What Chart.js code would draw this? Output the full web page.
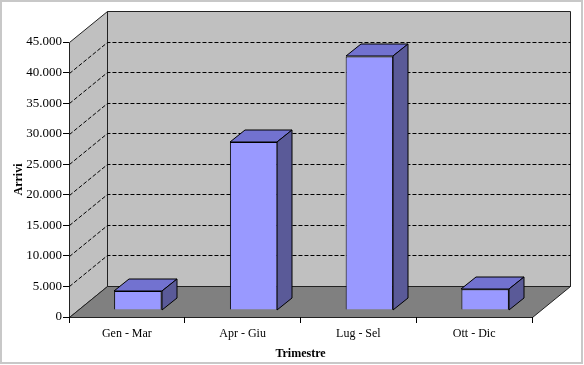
<!DOCTYPE html>
<html>
<head>
<meta charset="utf-8">
<script src="https://cdn.jsdelivr.net/npm/chart.js@4/dist/chart.umd.min.js"></script>
<style>
  html, body { margin: 0; padding: 0; background: #fff; }
  canvas { display: block; }
</style>
</head>
<body>
<canvas id="arrivi-chart" width="584" height="365"></canvas>
<script>
// dati
const categories = ["Gen - Mar", "Apr - Giu", "Lug - Sel", "Ott - Dic"];
const arrivi = [3100, 27500, 41500, 3400];
const yMax = 45000;
const yStep = 5000;

// finta prospettiva 3D (pixel)
const depth = {x: 38, y: -31};
const barShift = {x: 11, y: -7};
const barDepth = {x: 15, y: -12};

const fmt = v => String(v).replace(/\B(?=(\d{3})+(?!\d))/g, ".");
const serif = "'Liberation Serif', 'Times New Roman', serif";

function poly(ctx, pts, fill, stroke) {
    ctx.beginPath();
    pts.forEach((p, i) => i ? ctx.lineTo(p[0], p[1]) : ctx.moveTo(p[0], p[1]));
    ctx.closePath();
    if (fill) { ctx.fillStyle = fill; ctx.fill(); }
    if (stroke) { ctx.strokeStyle = stroke; ctx.lineWidth = 1; ctx.stroke(); }
}

const walls3d = {
    id: "walls3d",
    beforeDraw(chart) {
        const ctx = chart.ctx;
        const {left, right} = chart.chartArea;
        const y = chart.scales.y;
        const l = Math.round(left) + 0.5, r = Math.round(right) + 0.5;
        const t = Math.round(y.getPixelForValue(yMax)) + 0.5;
        const b = Math.round(y.getPixelForValue(0)) + 0.5;
        const dx = depth.x, dy = depth.y;

        ctx.save();
        ctx.fillStyle = "#fff";
        ctx.fillRect(0, 0, chart.width, chart.height);
        ctx.strokeStyle = "#c8c8c8";
        ctx.lineWidth = 2;
        ctx.strokeRect(1, 1, chart.width - 3, chart.height - 3);

        // parete di fondo, parete sinistra, pavimento
        poly(ctx, [[l + dx, t + dy], [r + dx, t + dy], [r + dx, b + dy], [l + dx, b + dy]], "#c0c0c0", "#222");
        poly(ctx, [[l, t], [l + dx, t + dy], [l + dx, b + dy], [l, b]], "#c0c0c0", "#222");
        poly(ctx, [[l, b], [l + dx, b + dy], [r + dx, b + dy], [r, b]], "#808080", "#222");

        // griglia tratteggiata
        ctx.setLineDash([4, 2]);
        ctx.strokeStyle = "#000";
        ctx.lineWidth = 1;
        for (let v = yStep; v < yMax; v += yStep) {
            const py = Math.round(y.getPixelForValue(v)) + 0.5;
            ctx.beginPath();
            ctx.moveTo(l, py);
            ctx.lineTo(l + dx, py + dy);
            ctx.lineTo(r + dx, py + dy);
            ctx.stroke();
        }
        ctx.restore();
    },
    beforeDatasetsDraw(chart) {
        const ctx = chart.ctx;
        chart.getDatasetMeta(0).data.forEach(el => {
            const p = el.getProps(["x", "y", "base", "width"], true);
            const L = Math.round(p.x - p.width / 2 + barShift.x);
            const R = Math.round(p.x + p.width / 2 + barShift.x);
            const T = Math.round(p.y + barShift.y);
            const B = Math.round(p.base + barShift.y);
            const bx = barDepth.x, by = barDepth.y;
            poly(ctx, [[L, T], [L + bx, T + by], [R + bx, T + by], [R, T]], "#7272d0", "#000");
            poly(ctx, [[R, T], [R + bx, T + by], [R + bx, B + by], [R, B]], "#5a5a98", "#000");
        });
        ctx.save();
        ctx.translate(barShift.x, barShift.y);
    },
    afterDatasetsDraw(chart) {
        chart.ctx.restore();
    }
};

new Chart(document.getElementById("arrivi-chart"), {
    type: "bar",
    data: {
        labels: categories,
        datasets: [{
            label: "Arrivi",
            data: arrivi,
            backgroundColor: "#9999ff",
            borderColor: "#000",
            borderWidth: 1,
            barPercentage: 0.41,
            categoryPercentage: 1
        }]
    },
    options: {
        responsive: false,
        animation: false,
        layout: {padding: {top: 42, right: 52, left: 0, bottom: 0}},
        plugins: {legend: {display: false}, tooltip: {enabled: false}},
        scales: {
            x: {
                grid: {offset: true, drawOnChartArea: false, tickLength: 6, color: "#000"},
                border: {display: false},
                ticks: {color: "#000", padding: 4, font: {family: serif, size: 12}},
                title: {display: true, text: "Trimestre", color: "#000", padding: {top: 0, bottom: 4}, font: {family: serif, size: 12, weight: "bold"}},
                afterFit: s => { s.height = 48; }
            },
            y: {
                min: 0,
                max: yMax,
                grid: {drawOnChartArea: false, tickLength: 6, color: "#000"},
                border: {display: false},
                ticks: {stepSize: yStep, color: "#000", padding: 1, font: {family: serif, size: 13}, callback: v => fmt(v)},
                title: {display: true, text: "Arrivi", color: "#000", padding: {top: 12, bottom: 0}, font: {family: serif, size: 12, weight: "bold"}},
                afterFit: s => { s.width = 69; }
            }
        }
    },
    plugins: [walls3d]
});
</script>
</body>
</html>
